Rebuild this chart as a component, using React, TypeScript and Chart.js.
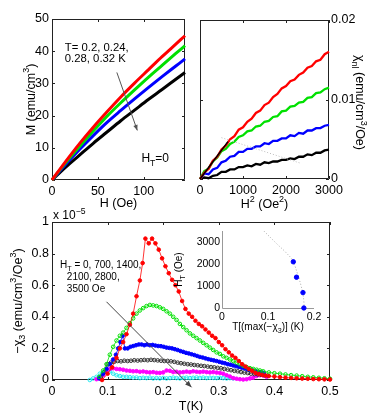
import React, { useEffect, useRef } from "react";
import { Chart, registerables } from "chart.js";
Chart.register(...registerables);

const FONT = '"Liberation Sans", Arial, Helvetica, sans-serif';

// ---------- Panel (a): M vs H ----------
const M_H = [0, 15, 30, 45, 60, 75, 90, 105, 120, 135, 145];
const M_T020 = [0, 5.8, 11.3, 16.4, 21.2, 25.8, 30.1, 34.2, 38.3, 42.2, 44.8];
const M_T024 = [0, 5.4, 10.4, 15.2, 19.8, 24.0, 28.0, 31.9, 35.6, 39.3, 41.7];
const M_T028 = [0, 4.9, 9.5, 13.8, 17.9, 21.6, 25.2, 28.7, 32.1, 35.4, 37.6];
const M_T032 = [0, 4.0, 7.7, 11.4, 14.9, 18.4, 21.7, 25.0, 28.1, 31.3, 33.4];
const M_XTICKS = [0, 50, 100];
const M_YTICKS = [0, 10, 20, 30, 40, 50];

// ---------- Panel (b): chi_nl vs H^2 ----------
const CHI_H2 = [0, 100, 200, 300, 400, 500, 600, 700, 800, 900, 1000, 1100, 1200, 1300, 1400, 1500, 1600, 1700, 1800, 1900, 2000, 2100, 2200, 2300, 2400, 2500, 2600, 2700, 2800, 2900, 3000];
const CHI_T020 = [0, 0.0008, 0.0013, 0.0023, 0.0028, 0.0037, 0.0042, 0.005, 0.0054, 0.0062, 0.0065, 0.0072, 0.0076, 0.0083, 0.0086, 0.0093, 0.0096, 0.0103, 0.0107, 0.0114, 0.0117, 0.0123, 0.0125, 0.0131, 0.0134, 0.014, 0.0142, 0.0148, 0.015, 0.0157, 0.016];
const CHI_T024 = [0, 0.001, 0.0013, 0.0022, 0.0027, 0.0035, 0.0038, 0.0044, 0.0047, 0.0053, 0.0055, 0.006, 0.0061, 0.0066, 0.0067, 0.0072, 0.0073, 0.0078, 0.0079, 0.0085, 0.0086, 0.0091, 0.0092, 0.0096, 0.0097, 0.0102, 0.0103, 0.0108, 0.0109, 0.0113, 0.0115];
const CHI_T028 = [0, 0.0007, 0.0006, 0.0012, 0.0014, 0.0021, 0.0023, 0.0028, 0.0029, 0.0034, 0.0034, 0.0038, 0.0038, 0.0041, 0.0041, 0.0045, 0.0044, 0.0048, 0.0048, 0.0051, 0.0051, 0.0055, 0.0054, 0.0058, 0.0057, 0.0061, 0.0061, 0.0064, 0.0064, 0.0067, 0.0068];
const CHI_T032 = [0, 0.0002, 0.0001, 0.0004, 0.0005, 0.0009, 0.0009, 0.0012, 0.0012, 0.0015, 0.0015, 0.0017, 0.0016, 0.0019, 0.0018, 0.0021, 0.002, 0.0022, 0.0022, 0.0024, 0.0024, 0.0026, 0.0025, 0.0028, 0.0028, 0.0031, 0.003, 0.0033, 0.0033, 0.0036, 0.0037];
const FIT_H2 = [0, 650];
const FIT_CHI = [0, 0.0047];
const GUIDE_H2 = [500, 2330];
const GUIDE_CHI = [0.0052, 0.002];
const CHI_XTICKS = [0, 1000, 2000, 3000];
const CHI_YTICKS = [0, 0.01, 0.02];

// ---------- Panel (c): -chi_3 vs T ----------
const T_H0 = [0.09, 0.1, 0.108, 0.116, 0.122, 0.128, 0.134, 0.14, 0.146, 0.152, 0.158, 0.163, 0.168, 0.174, 0.18, 0.186, 0.192, 0.198, 0.204, 0.21, 0.216, 0.222, 0.228, 0.234, 0.24, 0.246, 0.252, 0.258, 0.264, 0.27, 0.276, 0.282, 0.288, 0.294, 0.3, 0.306, 0.312, 0.318, 0.324, 0.33, 0.336, 0.342, 0.348, 0.354, 0.36, 0.366, 0.372, 0.378, 0.384, 0.39, 0.4, 0.41, 0.42, 0.43, 0.44, 0.45, 0.46, 0.47, 0.48, 0.49, 0.5];
const X3_H0 = [0, 0.04, 0.08, 0.14, 0.2, 0.24, 0.29, 0.35, 0.42, 0.53, 0.63, 0.74, 0.895, 0.865, 0.895, 0.865, 0.825, 0.77, 0.72, 0.676, 0.634, 0.6, 0.56, 0.5, 0.45, 0.42, 0.4, 0.375, 0.355, 0.34, 0.32, 0.3, 0.28, 0.265, 0.24, 0.22, 0.195, 0.175, 0.155, 0.14, 0.12, 0.1, 0.085, 0.07, 0.058, 0.045, 0.038, 0.032, 0.028, 0.025, 0.022, 0.018, 0.015, 0.013, 0.011, 0.009, 0.008, 0.006, 0.005, 0.004, 0.003];

const T_H700 = [0.085, 0.092, 0.098, 0.104, 0.11, 0.116, 0.122, 0.128, 0.134, 0.14, 0.146, 0.152, 0.158, 0.164, 0.17, 0.176, 0.182, 0.188, 0.194, 0.2, 0.206, 0.212, 0.218, 0.224, 0.23, 0.236, 0.242, 0.248, 0.254, 0.26, 0.266, 0.272, 0.278, 0.284, 0.29, 0.296, 0.302, 0.308, 0.314, 0.32, 0.326, 0.332, 0.338, 0.344, 0.35, 0.356, 0.362, 0.368, 0.374, 0.38, 0.39, 0.4, 0.41, 0.42, 0.43, 0.44, 0.45, 0.46, 0.47, 0.48, 0.49, 0.5];
const X3_H700 = [0.02, 0.06, 0.1, 0.16, 0.21, 0.25, 0.28, 0.3, 0.33, 0.36, 0.39, 0.42, 0.44, 0.455, 0.468, 0.475, 0.472, 0.468, 0.46, 0.45, 0.435, 0.42, 0.4, 0.38, 0.355, 0.335, 0.315, 0.295, 0.28, 0.265, 0.25, 0.235, 0.22, 0.205, 0.19, 0.175, 0.165, 0.15, 0.14, 0.13, 0.12, 0.11, 0.1, 0.09, 0.082, 0.075, 0.07, 0.065, 0.06, 0.055, 0.048, 0.043, 0.04, 0.035, 0.031, 0.028, 0.024, 0.02, 0.017, 0.014, 0.011, 0.008];

const T_H1400 = [0.085, 0.092, 0.098, 0.104, 0.11, 0.115, 0.119, 0.123, 0.127, 0.131, 0.136, 0.141, 0.146, 0.151, 0.156, 0.161, 0.166, 0.171, 0.176, 0.181, 0.186, 0.191, 0.196, 0.201, 0.206, 0.211, 0.216, 0.221, 0.226, 0.231, 0.236, 0.241, 0.246, 0.251, 0.256, 0.261, 0.266, 0.271, 0.276, 0.281, 0.286, 0.291, 0.296, 0.301, 0.306, 0.311, 0.316, 0.321, 0.326, 0.331, 0.336, 0.341, 0.346, 0.351, 0.356, 0.361, 0.366, 0.371, 0.376, 0.381];
const X3_H1400 = [0.01, 0.04, 0.07, 0.1, 0.13, 0.16, 0.2, 0.24, 0.28, 0.2, 0.2, 0.21, 0.215, 0.22, 0.225, 0.225, 0.22, 0.225, 0.22, 0.222, 0.218, 0.215, 0.214, 0.21, 0.205, 0.203, 0.2, 0.195, 0.19, 0.183, 0.178, 0.172, 0.168, 0.163, 0.158, 0.152, 0.146, 0.142, 0.137, 0.132, 0.128, 0.124, 0.12, 0.115, 0.11, 0.106, 0.1, 0.097, 0.092, 0.087, 0.083, 0.078, 0.074, 0.068, 0.065, 0.06, 0.056, 0.052, 0.05, 0.045];

const T_H2100 = [0.088, 0.094, 0.1, 0.106, 0.112, 0.118, 0.124, 0.13, 0.136, 0.142, 0.148, 0.154, 0.16, 0.166, 0.172, 0.178, 0.184, 0.19, 0.196, 0.202, 0.208, 0.214, 0.22, 0.226, 0.232, 0.238, 0.244, 0.25, 0.256, 0.262, 0.268, 0.274, 0.28, 0.286, 0.292, 0.298, 0.304, 0.31, 0.316, 0.322, 0.328, 0.334, 0.34, 0.346, 0.352, 0.358, 0.364, 0.37, 0.376, 0.382, 0.388];
const X3_H2100 = [0.02, 0.05, 0.1, 0.11, 0.115, 0.12, 0.118, 0.122, 0.12, 0.122, 0.125, 0.123, 0.125, 0.127, 0.125, 0.128, 0.126, 0.124, 0.122, 0.12, 0.121, 0.118, 0.115, 0.11, 0.106, 0.103, 0.1, 0.098, 0.095, 0.093, 0.09, 0.088, 0.085, 0.082, 0.08, 0.077, 0.074, 0.07, 0.066, 0.062, 0.058, 0.055, 0.05, 0.047, 0.044, 0.04, 0.037, 0.035, 0.033, 0.03, 0.028];

const T_H2800 = [0.08, 0.086, 0.092, 0.098, 0.104, 0.11, 0.116, 0.122, 0.128, 0.134, 0.14, 0.146, 0.152, 0.158, 0.164, 0.17, 0.176, 0.182, 0.188, 0.194, 0.2, 0.206, 0.212, 0.218, 0.224, 0.23, 0.236, 0.242, 0.248, 0.254, 0.26, 0.266, 0.272, 0.278, 0.284, 0.29, 0.296, 0.302, 0.308, 0.314, 0.32, 0.326, 0.332, 0.338, 0.344, 0.35, 0.356, 0.362, 0.368, 0.374, 0.38, 0.386];
const X3_H2800 = [0.005, 0.01, 0.03, 0.055, 0.07, 0.074, 0.07, 0.068, 0.065, 0.06, 0.058, 0.055, 0.056, 0.052, 0.054, 0.05, 0.048, 0.05, 0.046, 0.045, 0.048, 0.06, 0.058, 0.05, 0.052, 0.048, 0.05, 0.053, 0.05, 0.055, 0.052, 0.05, 0.053, 0.05, 0.048, 0.05, 0.047, 0.045, 0.04, 0.03, 0.022, 0.012, 0.008, 0.005, 0.003, 0.005, 0.01, 0.015, 0.025, 0.03, 0.028, 0.02];

const T_H3500 = [0.068, 0.074, 0.08, 0.086, 0.092, 0.098, 0.104, 0.11, 0.116, 0.122, 0.128, 0.134, 0.14, 0.146, 0.152, 0.158, 0.164, 0.17, 0.176, 0.182, 0.188, 0.194, 0.2, 0.206, 0.212, 0.218, 0.224, 0.23, 0.236, 0.242, 0.248, 0.254, 0.26, 0.266, 0.272, 0.278, 0.284, 0.29, 0.296, 0.302, 0.308, 0.314, 0.32, 0.326];
const X3_H3500 = [0, 0.01, 0.02, 0.04, 0.05, 0.05, 0.055, 0.04, 0.03, 0.025, 0.02, 0.02, 0.018, 0.015, 0.016, 0.012, 0.014, 0.012, 0.015, 0.01, 0.012, 0.01, 0.013, 0.01, 0.012, 0.015, 0.012, 0.01, 0.013, 0.015, 0.012, 0.014, 0.016, 0.013, 0.015, 0.012, 0.014, 0.013, 0.012, 0.014, 0.012, 0.01, 0.012, 0.01];
const X3_XTICKS = [0, 0.1, 0.2, 0.3, 0.4, 0.5];
const X3_YTICKS = [0, 0.2, 0.4, 0.6, 0.8, 1];

// ---------- Inset: H_T vs T[max(-chi_3)] ----------
const INSET_T = [0.178, 0.176, 0.162, 0.155];
const INSET_HT = [0, 700, 1400, 2100];
const INSET_GUIDE_T = [0.091, 0.12, 0.14, 0.155, 0.165, 0.172, 0.177, 0.179];
const INSET_GUIDE_HT = [3500, 2900, 2500, 2100, 1500, 1000, 500, 0];
const INSET_XTICKS = [0, 0.1, 0.2];
const INSET_YTICKS = [0, 1000, 2000, 3000];

// ---------- helpers ----------
type Seg = { t: string; sub?: boolean; sup?: boolean };
const xy = (xs: number[], ys: number[]) => xs.map((x, i) => ({ x, y: ys[i] }));

function drawRich(ctx: CanvasRenderingContext2D, segs: Seg[], x: number, y: number, size: number, align: "left" | "center" | "right" = "left", rot = 0, color = "#000") {
  ctx.save();
  ctx.translate(x, y);
  if (rot) ctx.rotate(rot);
  ctx.textBaseline = "alphabetic";
  ctx.textAlign = "left";
  ctx.fillStyle = color;
  const sz = (s: Seg) => (s.sub || s.sup ? size * 0.72 : size);
  const widths = segs.map((s) => {
    ctx.font = `${sz(s)}px ${FONT}`;
    return ctx.measureText(s.t).width;
  });
  const total = widths.reduce((a, b) => a + b, 0);
  let cx = align === "center" ? -total / 2 : align === "right" ? -total : 0;
  const base = size * 0.36;
  segs.forEach((s, i) => {
    ctx.font = `${sz(s)}px ${FONT}`;
    const dy = s.sub ? size * 0.3 : s.sup ? -size * 0.42 : 0;
    ctx.fillText(s.t, cx, base + dy);
    cx += widths[i];
  });
  ctx.restore();
}

function drawArrow(ctx: CanvasRenderingContext2D, x1: number, y1: number, x2: number, y2: number, color: string, head = 6) {
  ctx.save();
  ctx.strokeStyle = color;
  ctx.fillStyle = color;
  ctx.lineWidth = 1;
  ctx.beginPath();
  ctx.moveTo(x1, y1);
  ctx.lineTo(x2, y2);
  ctx.stroke();
  const a = Math.atan2(y2 - y1, x2 - x1);
  ctx.beginPath();
  ctx.moveTo(x2, y2);
  ctx.lineTo(x2 - head * Math.cos(a - 0.38), y2 - head * Math.sin(a - 0.38));
  ctx.lineTo(x2 - head * Math.cos(a + 0.38), y2 - head * Math.sin(a + 0.38));
  ctx.closePath();
  ctx.fill();
  ctx.restore();
}

function scale(pos: string, min: number, max: number, ticks: number[], fit: number, size = 12.5, pad = 3) {
  return {
    type: "linear",
    position: pos,
    min,
    max,
    grid: { display: false, drawTicks: false },
    border: { display: false },
    ticks: {
      font: { family: FONT, size },
      color: "#000",
      padding: pad,
      maxRotation: 0,
      autoSkip: false,
      callback: (v: number) => String(v),
    },
    afterBuildTicks: (s: any) => {
      s.ticks = ticks.map((v) => ({ value: v }));
    },
    afterFit: (s: any) => {
      if (pos === "left" || pos === "right") s.width = fit;
      else s.height = fit;
    },
  };
}

function decor(frame: "box" | "axes", frameColor: string, tickLen: number, draw: (ctx: CanvasRenderingContext2D, chart: any) => void) {
  return {
    id: "decor",
    beforeDatasetsDraw(chart: any) {
      const { ctx, chartArea: a, scales } = chart;
      ctx.save();
      ctx.strokeStyle = frameColor;
      ctx.lineWidth = 1;
      ctx.beginPath();
      if (frame === "box") {
        ctx.rect(a.left + 0.5, a.top + 0.5, a.right - a.left - 1, a.bottom - a.top - 1);
      } else {
        ctx.moveTo(a.left + 0.5, a.top);
        ctx.lineTo(a.left + 0.5, a.bottom + 0.5);
        ctx.lineTo(a.right, a.bottom + 0.5);
      }
      ctx.stroke();
      if (tickLen > 0) {
        ctx.beginPath();
        for (const t of scales.x.ticks) {
          const p = Math.round(scales.x.getPixelForValue(t.value)) + 0.5;
          ctx.moveTo(p, a.bottom);
          ctx.lineTo(p, a.bottom - tickLen);
          if (frame === "box") {
            ctx.moveTo(p, a.top);
            ctx.lineTo(p, a.top + tickLen);
          }
        }
        for (const t of scales.y.ticks) {
          const p = Math.round(scales.y.getPixelForValue(t.value)) + 0.5;
          ctx.moveTo(a.left, p);
          ctx.lineTo(a.left + tickLen, p);
          if (frame === "box") {
            ctx.moveTo(a.right, p);
            ctx.lineTo(a.right - tickLen, p);
          }
        }
        ctx.stroke();
      }
      ctx.restore();
    },
    afterDatasetsDraw(chart: any) {
      draw(chart.ctx, chart);
    },
  };
}

const baseOptions = (padding: any, scales: any) => ({
  responsive: false,
  animation: false,
  devicePixelRatio: 1,
  layout: { padding },
  plugins: { legend: { display: false }, tooltip: { enabled: false } },
  events: [],
  scales,
});

function lineDs(data: any, color: string, width: number, extra: any = {}) {
  return {
    data,
    borderColor: color,
    backgroundColor: color,
    borderWidth: width,
    pointRadius: 0,
    fill: false,
    clip: false,
    ...extra,
  };
}

function markDs(data: any, color: string, open: boolean, extra: any = {}) {
  return {
    data,
    borderColor: color,
    backgroundColor: color,
    borderWidth: 0.8,
    pointRadius: 1.8,
    pointBorderWidth: 1,
    pointBorderColor: color,
    pointBackgroundColor: open ? "rgba(0,0,0,0)" : color,
    fill: false,
    clip: false,
    ...extra,
  };
}

const RED = "#ff0000";
const GREEN = "#00e000";
const BLUE = "#0000ff";
const BLACK = "#000000";
const MAGENTA = "#ff00ff";
const CYAN = "#22e8f0";

export default function App() {
  const r1 = useRef<HTMLCanvasElement>(null);
  const r2 = useRef<HTMLCanvasElement>(null);
  const r3 = useRef<HTMLCanvasElement>(null);
  const r4 = useRef<HTMLCanvasElement>(null);

  useEffect(() => {
    const charts: Chart[] = [];

    // (a) M vs H
    charts.push(
      new Chart(r1.current as HTMLCanvasElement, {
        type: "line",
        data: {
          datasets: [
            lineDs(xy(M_H, M_T020), RED, 3, { cubicInterpolationMode: "monotone" }),
            lineDs(xy(M_H, M_T024), GREEN, 3, { cubicInterpolationMode: "monotone" }),
            lineDs(xy(M_H, M_T028), BLUE, 3, { cubicInterpolationMode: "monotone" }),
            lineDs(xy(M_H, M_T032), BLACK, 3, { cubicInterpolationMode: "monotone" }),
          ],
        },
        options: baseOptions(
          { left: 0, right: 197, top: 19, bottom: 203 },
          { x: scale("bottom", 0, 145, M_XTICKS, 30, 12.5, 4), y: scale("left", 0, 50, M_YTICKS, 52) }
        ) as any,
        plugins: [
          decor("box", "#222", 3, (ctx, chart) => {
            const a = chart.chartArea;
            const X = (v: number) => chart.scales.x.getPixelForValue(v);
            const Y = (v: number) => chart.scales.y.getPixelForValue(v);
            drawRich(ctx, [{ t: "T= 0.2, 0.24," }], X(14), Y(41.2), 11.3);
            drawRich(ctx, [{ t: "0.28, 0.32 K" }], X(14), Y(37.8), 11.3);
            drawRich(ctx, [{ t: "H" }, { t: "T", sub: true }, { t: "=0" }], X(97.5), Y(6.8), 12);
            drawArrow(ctx, X(70.7), Y(33.4), X(93), Y(15.4), "#555", 6);
            drawRich(ctx, [{ t: "M (emu/cm" }, { t: "3", sup: true }, { t: ")" }], 30, (a.top + a.bottom) / 2, 12.5, "center", -Math.PI / 2);
            drawRich(ctx, [{ t: "H (Oe)" }], (a.left + a.right) / 2, a.bottom + 22, 12.5, "center");
          }),
        ],
      } as any)
    );

    // (b) chi_nl vs H^2
    charts.push(
      new Chart(r2.current as HTMLCanvasElement, {
        type: "line",
        data: {
          datasets: [
            lineDs(xy(FIT_H2, FIT_CHI), BLACK, 1.5),
            lineDs(xy(GUIDE_H2, GUIDE_CHI), "#bbbbbb", 1, { borderDash: [1, 2] }),
            lineDs(xy(CHI_H2, CHI_T020), RED, 2.3),
            lineDs(xy(CHI_H2, CHI_T024), GREEN, 2.3),
            lineDs(xy(CHI_H2, CHI_T028), BLUE, 2.3),
            lineDs(xy(CHI_H2, CHI_T032), BLACK, 2.3),
          ],
        },
        options: baseOptions(
          { left: 200, right: 23, top: 20, bottom: 204 },
          { x: scale("bottom", 0, 3000, CHI_XTICKS, 30, 12.5, 4), y: scale("right", 0, 0.02, CHI_YTICKS, 30, 12.5, 2) }
        ) as any,
        plugins: [
          decor("box", "#222", 3, (ctx, chart) => {
            const a = chart.chartArea;
            drawRich(ctx, [{ t: "χ" }, { t: "nl", sub: true }, { t: " (emu/cm" }, { t: "3", sup: true }, { t: "/Oe)" }], 360, (a.top + a.bottom) / 2 + 3, 12.5, "center", Math.PI / 2);
            drawRich(ctx, [{ t: "H" }, { t: "2", sup: true }, { t: " (Oe" }, { t: "2", sup: true }, { t: ")" }], (a.left + a.right) / 2, a.bottom + 24, 12.5, "center");
          }),
        ],
      } as any)
    );

    // (c) -chi_3 vs T
    charts.push(
      new Chart(r3.current as HTMLCanvasElement, {
        type: "line",
        data: {
          datasets: [
            markDs(xy(T_H0, X3_H0), RED, false),
            markDs(xy(T_H700, X3_H700), GREEN, true),
            markDs(xy(T_H1400, X3_H1400), BLUE, false),
            markDs(xy(T_H2100, X3_H2100), "#333333", true),
            markDs(xy(T_H2800, X3_H2800), MAGENTA, false),
            markDs(xy(T_H3500, X3_H3500), CYAN, true),
          ],
        },
        options: baseOptions(
          { left: 0, right: 52, top: 222, bottom: 13 },
          { x: scale("bottom", 0, 0.5, X3_XTICKS, 20, 12.5, 4), y: scale("left", 0, 1, X3_YTICKS, 52) }
        ) as any,
        plugins: [
          decor("box", "#222", 3, (ctx, chart) => {
            const a = chart.chartArea;
            const X = (v: number) => chart.scales.x.getPixelForValue(v);
            const Y = (v: number) => chart.scales.y.getPixelForValue(v);
            drawRich(ctx, [{ t: "H" }, { t: "T", sub: true }, { t: " = 0, 700, 1400," }], X(0.0144), Y(0.734), 10);
            drawRich(ctx, [{ t: "2100, 2800," }], X(0.0267), Y(0.658), 10);
            drawRich(ctx, [{ t: "3500 Oe" }], X(0.0267), Y(0.582), 10);
            drawArrow(ctx, X(0.098), Y(0.495), X(0.251), Y(-0.046), "#444", 7);
            drawRich(ctx, [{ t: "−χ" }, { t: "3", sub: true }, { t: " (emu/cm" }, { t: "3", sup: true }, { t: "/Oe" }, { t: "3", sup: true }, { t: ")" }], 17, (a.top + a.bottom) / 2, 12.5, "center", -Math.PI / 2);
            drawRich(ctx, [{ t: "x 10" }, { t: "−5", sup: true }], a.left + 1, a.top - 7, 12);
            drawRich(ctx, [{ t: "T(K)" }], (a.left + a.right) / 2, a.bottom + 25, 12.5, "center");
          }),
        ],
      } as any)
    );

    // inset
    charts.push(
      new Chart(r4.current as HTMLCanvasElement, {
        type: "line",
        data: {
          datasets: [
            markDs(xy(INSET_T, INSET_HT), BLUE, false, { showLine: false, pointRadius: 2.2 }),
            lineDs(xy(INSET_GUIDE_T, INSET_GUIDE_HT), "#aaaaaa", 1, { borderDash: [1, 2], cubicInterpolationMode: "monotone" }),
          ],
        },
        options: baseOptions(
          { left: 190, right: 68, top: 231, bottom: 91 },
          { x: scale("bottom", 0, 0.2, INSET_XTICKS, 14, 10.5, 3), y: scale("left", 0, 3500, INSET_YTICKS, 32, 10.5, 2) }
        ) as any,
        plugins: [
          decor("axes", "#999", 0, (ctx, chart) => {
            const a = chart.chartArea;
            drawRich(ctx, [{ t: "H" }, { t: "T", sub: true }, { t: " (Oe)" }], 178, (a.top + a.bottom) / 2, 10, "center", -Math.PI / 2);
            drawRich(ctx, [{ t: "T[(max(−χ" }, { t: "3", sub: true }, { t: ")] (K)" }], (a.left + a.right) / 2, a.bottom + 18, 10, "center");
          }),
        ],
      } as any)
    );

    return () => charts.forEach((c) => c.destroy());
  }, []);

  const cv: React.CSSProperties = { position: "absolute", left: 0, top: 0 };
  return (
    <div style={{ position: "fixed", left: 0, top: 0, width: 382, height: 413, background: "#fff", overflow: "hidden" }}>
      <canvas ref={r1} width={382} height={413} style={cv} />
      <canvas ref={r2} width={382} height={413} style={cv} />
      <canvas ref={r3} width={382} height={413} style={cv} />
      <canvas ref={r4} width={382} height={413} style={cv} />
    </div>
  );
}
